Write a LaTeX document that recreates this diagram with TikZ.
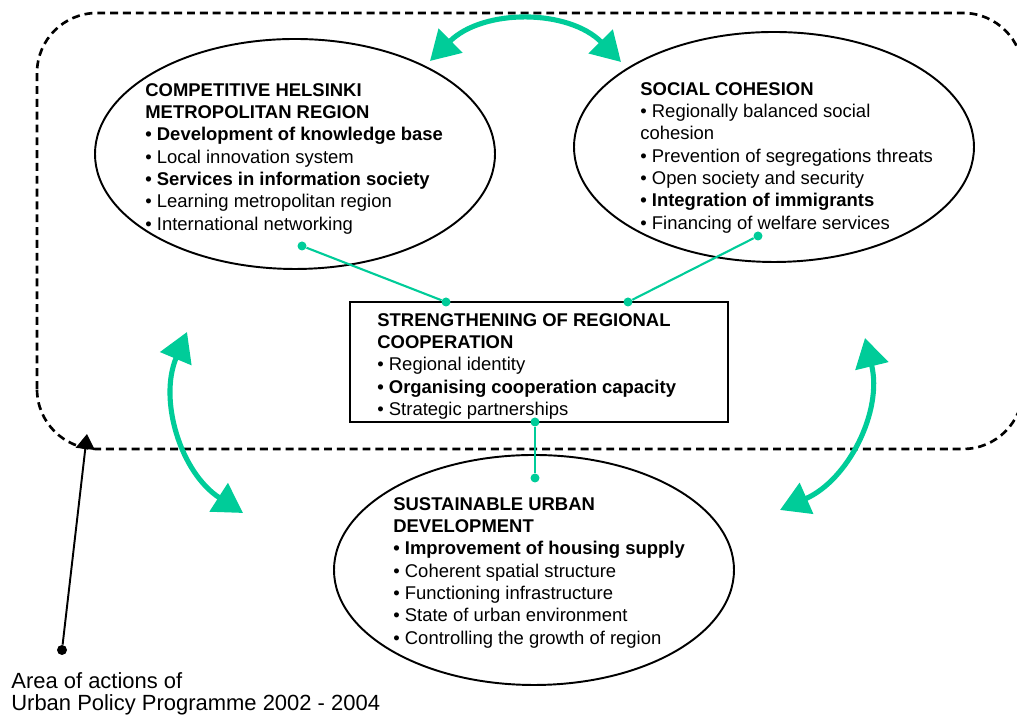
\documentclass[tikz,border=0pt]{standalone}
\usepackage{fontspec}
\setmainfont{Liberation Sans}
\usetikzlibrary{arrows.meta}

\definecolor{urbangreen}{RGB}{0,204,153}

\tikzset{
	area/.style={draw, line width=1.5pt, dash pattern=on 4.5pt off 2.8pt, rounded corners=1.2cm},
	theme/.style={draw, line width=1.1pt},
	themetext/.style={anchor=north west, inner sep=0, align=left, font=\fontsize{10.5}{12.7}\selectfont},
	linkdot/.style={fill=urbangreen, circle, inner sep=0, minimum size=0.18cm},
	link/.style={urbangreen, line width=1.2pt},
	interact/.style={urbangreen, line width=2.9pt, {Triangle[length=0.58cm,width=0.66cm]}-{Triangle[length=0.58cm,width=0.66cm]}},
}

\begin{document}
\begin{tikzpicture}

		\useasboundingbox (0,0) rectangle (20.34,14.3);

		% Area of actions
		\draw[area] (0.74,5.32) rectangle (20.46,14.04);

		% Competitive region
		\draw[theme] (5.9,11.22) ellipse (4 and 2.3);
		\node[themetext] (compet) at (2.9,12.64) {\textbf{COMPETITIVE HELSINKI}\\
			\textbf{METROPOLITAN REGION}\\
			\textbf{\textbullet\ Development of knowledge base}\\
			\textbullet\ Local innovation system\\
			\textbf{\textbullet\ Services in information society}\\
			\textbullet\ Learning metropolitan region\\
			\textbullet\ International networking};

		% Social cohesion
		\draw[theme] (15.48,11.36) ellipse (4 and 2.3);
		\node[themetext] (social) at (12.8,12.66) {\textbf{SOCIAL COHESION}\\
			\textbullet\ Regionally balanced social\\
			cohesion\\
			\textbullet\ Prevention of segregations threats\\
			\textbullet\ Open society and security\\
			\textbf{\textbullet\ Integration of immigrants}\\
			\textbullet\ Financing of welfare services};

		% Sustainable development
		\draw[theme] (10.68,2.9) ellipse (4 and 2.3);
		\node[themetext] (sustain) at (7.86,4.36) {\textbf{SUSTAINABLE URBAN}\\
			\textbf{DEVELOPMENT}\\
			\textbf{\textbullet\ Improvement of housing supply}\\
			\textbullet\ Coherent spatial structure\\
			\textbullet\ Functioning infrastructure\\
			\textbullet\ State of urban environment\\
			\textbullet\ Controlling the growth of region};

		% Regional cooperation
		\node[draw, line width=1.1pt, minimum width=7.56cm, minimum height=2.4cm, inner sep=0] (coop) at (10.78,7.06) {};
		\node[themetext] (cooptext) at (7.54,8.04) {\textbf{STRENGTHENING OF REGIONAL}\\
			\textbf{COOPERATION}\\
			\textbullet\ Regional identity\\
			\textbf{\textbullet\ Organising cooperation capacity}\\
			\textbullet\ Strategic partnerships};

		% Links to cooperation
		\node[linkdot] (d1) at (6.04,9.38) {};
		\node[linkdot] (d2) at (8.92,8.26) {};
		\node[linkdot] (d3) at (15.16,9.58) {};
		\node[linkdot] (d4) at (12.56,8.26) {};
		\node[linkdot] (d5) at (10.7,5.86) {};
		\node[linkdot] (d6) at (10.7,4.74) {};
		\draw[link] (d1) -- (d2);
		\draw[link] (d3) -- (d4);
		\draw[link] (d5) -- (d6);

		% Interaction arrows
		\coordinate (t1) at (8.6,13.08);
		\coordinate (t2) at (12.42,13.06);
		\coordinate (l1) at (4.86,4.04);
		\coordinate (l2) at (3.74,7.66);
		\coordinate (r1) at (15.6,4.1);
		\coordinate (r2) at (17.3,7.54);
		\draw[interact] (t1) to[bend left=45] (t2);
		\draw[interact] (l1) to[bend left=40] (l2);
		\draw[interact] (r1) to[bend right=40] (r2);

		% Caption
		\node[fill=black, circle, inner sep=0, minimum size=0.2cm] (capdot) at (1.24,1.3) {};
		\coordinate (areaedge) at (1.74,5.62);
		\draw[line width=1.1pt, -{Triangle[length=0.3cm,width=0.38cm]}] (capdot) -- (areaedge);
		\node[anchor=north west, inner sep=0, align=left, font=\fontsize{12.5}{12.5}\selectfont] (caption) at (0.22,0.86) {Area of actions of\\
			Urban Policy Programme 2002 - 2004};

	\end{tikzpicture}
\end{document}
